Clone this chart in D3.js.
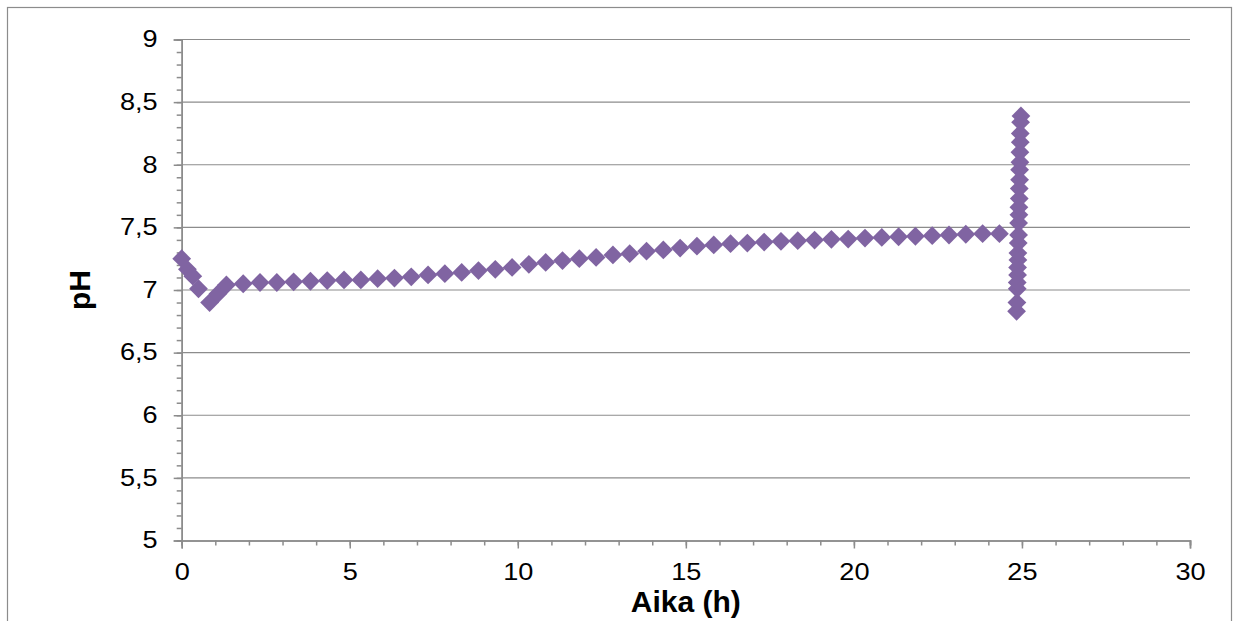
<!doctype html>
<html>
<head>
    <meta charset="utf-8">
    <style>
        body {
            margin: 0;
            background: #fff;
            font-family: "Liberation Sans", Arial, sans-serif;
        }
        .grid line { stroke: #8c8c8c; stroke-width: 1.2px; }
        .axis path, .axis line { stroke: #8c8c8c; stroke-width: 1.5px; }
        .title { font-size: 30px; font-weight: bold; fill: #000; }
    </style>
    <script src="https://d3js.org/d3.v7.min.js"></script>
</head>
<body>
<svg width="1239" height="621"></svg>
<script>
    // aika (h) ja pH, luettu kuvasta
    var hours = [0, 0.17, 0.33, 0.5, 0.83, 1.08, 1.33,
        1.83, 2.33, 2.83, 3.33, 3.83, 4.33, 4.83, 5.33, 5.83, 6.33,
        6.83, 7.33, 7.83, 8.33, 8.83, 9.33, 9.83, 10.33, 10.83, 11.33,
        11.83, 12.33, 12.83, 13.33, 13.83, 14.33, 14.83, 15.33, 15.83, 16.33,
        16.83, 17.33, 17.83, 18.33, 18.83, 19.33, 19.83, 20.33, 20.83, 21.33,
        21.83, 22.33, 22.83, 23.33, 23.83, 24.33,
        24.84, 24.85, 24.86, 24.86, 24.87, 24.87, 24.88, 24.88, 24.89, 24.9,
        24.9, 24.91, 24.91, 24.92, 24.92, 24.93, 24.93, 24.94, 24.94, 24.95,
        24.95, 24.96, 24.97];
    var ph = [7.25, 7.165, 7.11, 7.01, 6.9, 6.97, 7.04,
        7.05, 7.06, 7.06, 7.065, 7.07, 7.075, 7.08, 7.08, 7.09, 7.095,
        7.105, 7.12, 7.13, 7.14, 7.155, 7.165, 7.18, 7.205, 7.22, 7.235,
        7.25, 7.26, 7.28, 7.29, 7.31, 7.32, 7.335, 7.35, 7.36, 7.37,
        7.375, 7.383, 7.389, 7.394, 7.399, 7.405, 7.407, 7.415, 7.42, 7.425,
        7.429, 7.434, 7.439, 7.445, 7.45, 7.45,
        6.83, 6.9, 7.01, 7.06, 7.12, 7.18, 7.24, 7.295, 7.375, 7.44,
        7.535, 7.6, 7.66, 7.73, 7.81, 7.88, 7.96, 8.02, 8.1, 8.18,
        8.25, 8.34, 8.39];
    var xTicks = [0, 5, 10, 15, 20, 25, 30];
    var yTicks = [5, 5.5, 6, 6.5, 7, 7.5, 8, 8.5, 9];

    var svg = d3.select("svg");

    // ulkoreunus
    svg.append("rect")
        .attr("x", 7.5).attr("y", 7.5)
        .attr("width", 1224).attr("height", 640)
        .attr("fill", "none")
        .attr("stroke", "#8c8c8c")
        .attr("stroke-width", 1.2);

    var plotLeft = 181.7, plotRight = 1190, plotTop = 39.5, plotBottom = 540.5;
    var stretch = 1.18;   // tekstit ovat alkuperäisessä hieman leveämpiä

    var x = d3.scaleLinear().domain([0, 30]).range([plotLeft, plotRight]);
    var y = d3.scaleLinear().domain([5, 9]).range([plotBottom, plotTop]);

    // vaakasuorat apuviivat
    svg.append("g")
        .attr("class", "grid")
        .selectAll("line")
        .data(yTicks.slice(1))
        .enter().append("line")
        .attr("x1", plotLeft).attr("x2", plotRight)
        .attr("y1", function(d) { return y(d); })
        .attr("y2", function(d) { return y(d); });

    // pienet jakoviivat
    svg.append("g")
        .attr("class", "axis")
        .attr("transform", "translate(" + plotLeft + ",0)")
        .call(d3.axisLeft(y).tickValues(d3.range(50, 91).map(function(d) { return d / 10; }))
            .tickSize(5).tickFormat(""));
    svg.append("g")
        .attr("class", "axis")
        .attr("transform", "translate(0," + plotBottom + ")")
        .call(d3.axisBottom(x).tickValues(d3.range(0, 31)).tickSize(5).tickFormat(""));

    // y-akseli
    var yAxis = svg.append("g")
        .attr("class", "axis")
        .attr("transform", "translate(" + plotLeft + ",0)")
        .call(d3.axisLeft(y).tickValues(yTicks).tickSize(8).tickPadding(16)
            .tickFormat(function(d) { return String(d).replace(".", ","); }));
    yAxis.selectAll("text")
        .attr("x", -24 / stretch)
        .attr("transform", "scale(" + stretch + ",1)");

    // x-akseli
    var xAxis = svg.append("g")
        .attr("class", "axis")
        .attr("transform", "translate(0," + plotBottom + ")")
        .call(d3.axisBottom(x).tickValues(xTicks).tickSize(8).tickPadding(15)
            .tickFormat(d3.format("d")));
    xAxis.selectAll("text")
        .attr("transform", "scale(" + stretch + ",1)");

    svg.selectAll(".axis")
        .attr("font-family", "'Liberation Sans', Arial, sans-serif")
        .attr("font-size", 23);
    svg.selectAll(".axis text").attr("fill", "#000");

    // akselien otsikot
    svg.append("text")
        .attr("class", "title")
        .attr("transform", "translate(90," + ((plotTop + plotBottom) / 2) + ") rotate(-90)")
        .attr("text-anchor", "middle")
        .text("pH");
    svg.append("text")
        .attr("class", "title")
        .attr("x", (plotLeft + plotRight) / 2)
        .attr("y", 612)
        .attr("text-anchor", "middle")
        .text("Aika (h)");

    // mittauspisteet
    var diamond = d3.symbol().type(d3.symbolDiamond2).size(225);
    svg.append("g")
        .selectAll("path")
        .data(hours.map(function(h, i) { return [h, ph[i]]; }))
        .enter().append("path")
        .attr("d", diamond)
        .attr("transform", function(d) { return "translate(" + x(d[0]) + "," + y(d[1]) + ")"; })
        .attr("fill", "#8064A2");
</script>
</body>
</html>
